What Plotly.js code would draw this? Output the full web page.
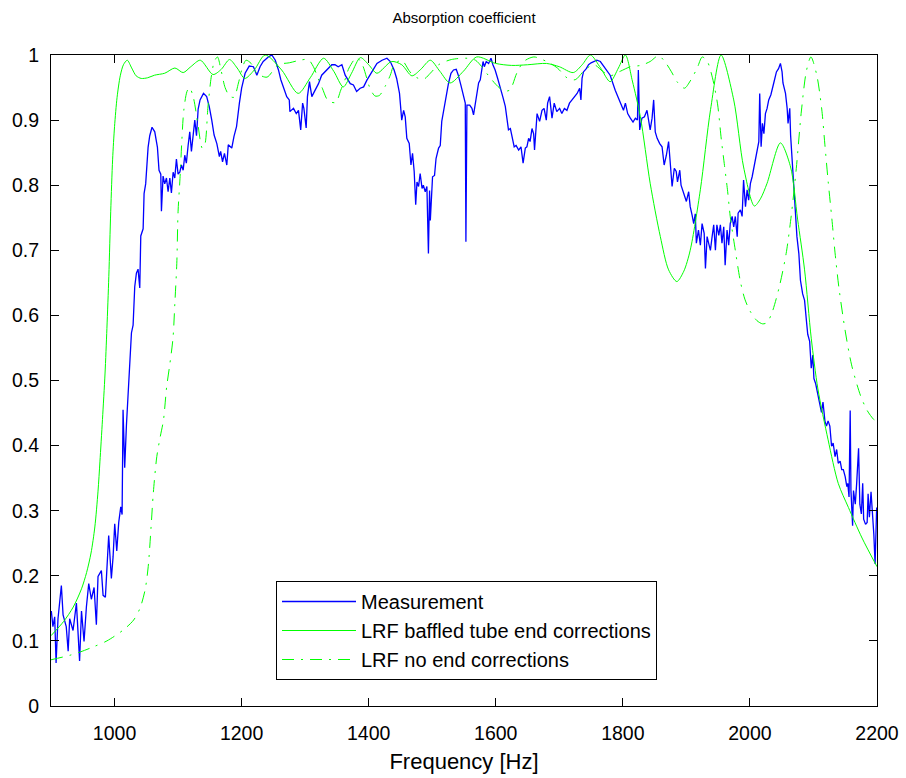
<!DOCTYPE html>
<html><head><meta charset="utf-8">
<script src="https://cdn.plot.ly/plotly-3.0.1.min.js"></script>
<style>html,body{margin:0;padding:0;background:#fff}#chart{width:906px;height:778px}</style>
</head><body><div id="chart"></div>
<script>
// Measurement (blue)
const measFreq = [900.5,903,905.8,908,911,916.3,919,924,927,929.4,934.7,940,945,948,952,955.7,959.4,963.5,967.8,971.4,974,979.3,982,985.6,990.8,995,997.7,1000.3,1003.5,1006.6,1009.8,1011.9,1013.4,1016,1018.7,1021.3,1024,1026.6,1029.2,1031.8,1034.4,1037,1039.7,1041.3,1045,1046.5,1049,1051.7,1052.8,1055.4,1059,1063.3,1067.5,1070,1072.8,1073.8,1076.4,1079,1081.7,1084.3,1087,1089.5,1092.2,1094.8,1097.4,1100,1102.7,1105.3,1108,1110.5,1113,1115.8,1118.4,1121,1123.7,1126.3,1129,1131.6,
1134.6,1140,1145,1149,1153,1156.7,1161,1165,1167,1170,1173,1176.7,1179,1184.5,1188,1192,1196.5,1200,1205.5,1212,1218.6,1224,1229,1234,1242,1247.6,1253,1258,1261.7,1266,1271,1275,1276,1281.6,1286,1289.5,1293,1296,1298,1301.6,1303.6,1306.8,1310.5,1315.7,1321,1326,1331.5,1336.7,1342,1347,1352,1357.8,1363,1371,1376,1381,1386.6,1392,1397,1405,1413,1421,1428.7,1434,1440,1444,1448.5,
1452,1455,1457.5,1460,1463.8,1466.5,1469,1471.6,1474,1476,1478.5,1481,1484,1486,1489,1491.6,1494,1495.8,1497,1500.5,1503.6,1506,1510,1512.6,1515,1519,1523,1525.7,1529.5,1533.5,1537.8,1541,1545,1549,1552,1553,1554.6,1559,1562.5,1565,1567.7,1570,1573,1575.6,1580,1582,1585,1588.7,1592.5,1595.5,1599,1603,1607,1611,1615,1617.6,1620,1623,1625.5,1629,1632,1636,1639.7,1643,1646.5,1649,1651.7,1654,1657,1659.6,1661,1665,1669,1672.8,1676,1679.5,1681.6,1684.7,1688.5,1692,1696,1700.5,1704,1708,1712,1716,1720,1723.6,1728,1732,1734,1735.8,1738,1742.5,1746,1750,1754,1759,1764.6,
1772.4,1780,1788,1793.4,1797,1801,1804,1807.6,1811.8,1816,1819.7,1823,1824.4,1826.5,1830,1834,1838,1840.6,1843,1846,1848.5,1851,1854,1858,1861.7,1865,1868.5,1872,1874.8,1877.5,1881,1884,1886,1889.6,1891.6,1895.8,1900,1903.6,1906,1909,1911.5,1914,1915.7,1919,1922,1924.7,1928,1930,1932.6,1935,1937.8,1940.5,1943,1945.7,1948,1951,1953.5,1956,1958.8,1961,1964,1966.6,1969,1972,1974.5,1977,1980,1981.4,1985,1987.7,1990,1993,1995.6,1998,2000.8,2003.5,2006,2008.7,2011,2014,2015.4,2017.6,2019.7,2022,2024.4,2027,2029.6,2033,2037.5,2041.7,2045,2048,2050.6,2052,2056,2058.6,2060,2062.7,2064,2066.5,2069,2071.7,2074,2077,2079.5,
2083,2086,2089,2091,2094,2096.5,2099,2100.7,2103.5,2106,2110,2112.6,2115,2118,2120.5,2123,2125.8,2128.5,2131,2134,2136.5,2139,2142,2144.5,2147,2150,2152.5,2154,2156,2157.8,2159,2161.6,2163,2165.8,2168,2171,2173,2175.4,2177.5,2179,2182,2184.5,2186,2188,2190.6,2193,2195,2197,2199.5];
const measVal = [0.146,0.122,0.137,0.066,0.134,0.185,0.14,0.122,0.084,0.134,0.116,0.158,0.069,0.146,0.099,0.152,0.188,0.164,0.182,0.125,0.199,0.208,0.17,0.167,0.262,0.196,0.229,0.28,0.238,0.282,0.306,0.294,0.455,0.366,0.431,0.484,0.544,0.573,0.585,0.644,0.665,0.671,0.642,0.722,0.733,0.787,0.802,0.837,0.858,0.876,0.889,0.882,0.858,0.823,0.817,0.76,0.814,0.802,0.811,0.79,0.811,0.788,0.82,0.811,0.84,0.817,0.82,0.831,0.823,0.846,0.834,0.861,0.882,0.852,0.882,0.9,0.876,0.917,
0.931,0.941,0.936,0.921,0.9,0.877,0.864,0.844,0.852,0.836,0.849,0.831,0.862,0.857,0.875,0.89,0.926,0.949,0.972,0.983,0.982,0.969,0.982,0.99,0.997,1.0,0.992,0.977,0.962,0.951,0.936,0.931,0.913,0.918,0.91,0.915,0.885,0.926,0.918,0.888,0.936,0.959,0.936,0.946,0.956,0.969,0.974,0.979,0.985,0.985,0.982,0.985,0.969,0.956,0.954,0.944,0.949,0.951,0.961,0.974,0.987,0.992,0.995,0.99,0.977,0.964,0.941,
0.9,0.915,0.905,0.872,0.864,0.831,0.849,0.821,0.77,0.805,0.798,0.818,0.795,0.8,0.79,0.798,0.695,0.792,0.746,0.813,0.815,0.841,0.857,0.861,0.898,0.921,0.944,0.957,0.972,0.977,0.978,0.969,0.954,0.939,0.926,0.713,0.923,0.923,0.918,0.908,0.926,0.944,0.957,0.962,0.99,0.982,0.99,0.987,0.995,0.985,0.977,0.964,0.951,0.936,0.921,0.9,0.885,0.887,0.875,0.859,0.861,0.854,0.859,0.834,0.857,0.859,0.872,0.867,0.887,0.879,0.854,0.91,0.898,0.915,0.918,0.9,0.926,0.936,0.903,0.926,0.913,0.918,0.91,0.918,0.915,0.926,0.931,0.936,0.941,0.949,0.931,0.964,0.974,0.979,0.985,0.988,0.99,0.992,0.99,
0.979,0.969,0.946,0.933,0.923,0.915,0.926,0.91,0.903,0.897,0.903,0.9,0.977,0.885,0.903,0.905,0.915,0.897,0.885,0.903,0.931,0.882,0.872,0.864,0.859,0.831,0.846,0.867,0.831,0.798,0.826,0.821,0.805,0.823,0.8,0.788,0.775,0.79,0.767,0.754,0.741,0.756,0.711,0.731,0.708,0.741,0.726,0.672,0.721,0.711,0.7,0.721,0.739,0.7,0.739,0.723,0.739,0.711,0.736,0.677,0.731,0.708,0.741,0.752,0.736,0.752,0.721,0.757,0.762,0.752,0.808,0.767,0.793,0.777,0.803,0.813,0.826,0.839,0.854,0.867,0.941,0.859,0.895,0.879,0.91,0.918,0.931,0.939,0.957,0.974,0.979,0.987,0.974,0.957,0.941,0.918,0.895,0.918,0.877,0.839,0.793,0.767,0.721,0.695,0.654,
0.633,0.623,0.591,0.571,0.56,0.519,0.539,0.503,0.495,0.482,0.467,0.451,0.467,0.438,0.43,0.438,0.43,0.399,0.404,0.383,0.394,0.373,0.376,0.363,0.363,0.352,0.337,0.342,0.321,0.454,0.331,0.277,0.331,0.31,0.342,0.396,0.31,0.295,0.342,0.287,0.279,0.282,0.326,0.29,0.329,0.3,0.264,0.218,0.305];

// LRF baffled tube end corrections (solid green)
const baffFreq = [900,920,935,948,956,963,969,974,977,981,985,988,991,994,997,1000,1004,1009,1014,1020,1027,1034,1042,1052,1063,1079,1095,1108,1120,1135,1155,1168,1181,1193,1205,1220,1237,1263,1289,1308,1329,1345,1360,1373,1387,1400,1413,1436,1452,1468,1482,1497,1512,1528,1549,1570,1600,1625,1650,1680,1700,1722,1736,1749,1765,1780,1793,1804,1815,1827.6,1843,1859,1872,1885,1896,1906,1922,1938,1954.6,1974.5,1990,2007,2016.5,2027,2048,2064,2075,2086,2096.5,2107,2123,2139,2155,2176.5,2200];
const baffVal = [0.108,0.13,0.152,0.18,0.205,0.235,0.275,0.33,0.375,0.44,0.51,0.58,0.66,0.76,0.84,0.89,0.935,0.968,0.985,0.992,0.98,0.968,0.964,0.965,0.969,0.972,0.98,0.973,0.982,0.992,0.97,0.978,0.993,0.98,0.964,0.977,1.0,0.977,0.941,0.965,0.995,0.975,0.951,0.972,0.996,0.985,0.972,0.99,0.985,0.968,0.978,0.992,0.975,0.957,0.975,0.997,0.987,0.984,0.985,0.987,0.982,0.973,0.985,1.0,0.98,0.959,0.98,1.0,0.96,0.905,0.803,0.721,0.67,0.652,0.668,0.7,0.793,0.916,1.0,0.931,0.828,0.768,0.779,0.803,0.865,0.828,0.748,0.67,0.565,0.487,0.409,0.342,0.305,0.258,0.214];

// LRF no end corrections (dash-dot green)
const noEndFreq = [900,930,946,967,988,1014,1030,1040,1048,1053,1057.5,1061,1066.5,1072,1077,1082,1087,1092,1095,1098,1100,1103,1106,1109,1114,1118,1124,1131,1138,1142,1147,1152,1157,1162,1168,1174,1181,1188,1195,1201,1207,1215,1224,1240,1257,1275,1292,1305,1313,1320,1327,1336,1348,1356,1362,1369,1381,1390,1402,1410,1417,1426,1434,1440,1452,1465,1476,1487,1497,1510,1530,1555,1568,1578,1588,1600,1612,1622,1633,1644,1660,1680,1697,1712,1725,1741,1755,1768,1780,1796,1812,1828,1843,1856,1866,1876,1886,1897,1906,1917,1925,1933,1941,1949,1955,1960,1965,1969,1977,1985,1992,2000,2011,2020,2027,2035,2046,2057,2065,2073,2081,2089,2096,2105,2113,2118,2123,2129,2134,2140,2150,2160,2174,2184.5,2195,2200];
const noEndVal = [0.071,0.078,0.083,0.091,0.1,0.117,0.132,0.15,0.178,0.214,0.275,0.327,0.383,0.414,0.439,0.49,0.525,0.565,0.62,0.68,0.76,0.81,0.87,0.915,0.944,0.95,0.935,0.895,0.857,0.862,0.92,0.965,0.99,0.997,0.975,0.95,0.937,0.935,0.957,0.98,0.992,0.987,0.972,0.966,0.985,0.988,0.992,0.993,0.982,0.965,0.949,0.93,0.927,0.946,0.96,0.98,0.996,0.985,0.949,0.937,0.938,0.952,0.969,0.985,0.992,0.974,0.965,0.963,0.972,0.985,0.993,0.995,0.992,0.982,0.969,0.955,0.945,0.946,0.972,0.99,0.997,0.99,0.98,0.965,0.962,0.978,0.985,0.975,0.968,0.975,0.982,0.984,0.99,0.999,0.99,0.975,0.958,0.949,0.96,0.98,0.997,0.99,0.965,0.925,0.87,0.83,0.79,0.752,0.7,0.652,0.625,0.607,0.592,0.587,0.589,0.605,0.643,0.695,0.753,0.826,0.914,0.976,0.997,0.97,0.917,0.862,0.807,0.748,0.696,0.643,0.576,0.524,0.477,0.454,0.44,0.437];

const seriesNames = ['Measurement','LRF baffled tube end corrections','LRF no end corrections'];
const xTicks = [1000,1200,1400,1600,1800,2000,2200];
const xTickText = ['1000','1200','1400','1600','1800','2000','2200'];
const yTicks = [0,0.1,0.2,0.3,0.4,0.5,0.6,0.7,0.8,0.9,1];
const yTickText = ['0','0.1','0.2','0.3','0.4','0.5','0.6','0.7','0.8','0.9','1'];

const traces = [
  {x: measFreq, y: measVal, name: seriesNames[0], type:'scatter', mode:'lines', line:{color:'rgb(0,0,255)', width:1.3}},
  {x: baffFreq, y: baffVal, name: seriesNames[1], type:'scatter', mode:'lines', line:{color:'rgb(0,255,0)', width:1, shape:'spline', smoothing:0.8}},
  {x: noEndFreq, y: noEndVal, name: seriesNames[2], type:'scatter', mode:'lines', line:{color:'rgb(0,255,0)', width:1, shape:'spline', smoothing:0.8, dash:'12px,7px,2px,7px'}}
];

const axisCommon = {
  ticks:'inside', ticklen:8, tickcolor:'black', tickwidth:1,
  showline:true, linecolor:'black', linewidth:1, mirror:'ticks',
  showgrid:false, zeroline:false, tickfont:{size:19.5, color:'black'}
};

const layout = {
  width:906, height:778,
  margin:{l:51, r:29, t:55, b:72},
  paper_bgcolor:'white', plot_bgcolor:'white',
  font:{family:'Liberation Sans, Arial, sans-serif', color:'black', size:19},
  title:{text:'Absorption coefficient', font:{size:15, color:'black'}, x:0.5, xref:'paper', xanchor:'center', y:1-18/778, yref:'container', yanchor:'middle'},
  xaxis: Object.assign({}, axisCommon, {range:[900,2200], tickmode:'array', tickvals:xTicks, ticktext:xTickText, ticklabelstandoff:10,
    title:{text:'Frequency [Hz]', font:{size:22, color:'black'}, standoff:10}}),
  yaxis: Object.assign({}, axisCommon, {range:[0,1], tickmode:'array', tickvals:yTicks, ticktext:yTickText, ticklabelstandoff:7}),
  showlegend:true,
  legend:{x:(276-51)/826, y:(706-630.5)/651, xanchor:'left', yanchor:'middle', bgcolor:'white', bordercolor:'black', borderwidth:1, font:{size:20, color:'black'}, itemwidth:74, tracegroupgap:0}
};

Plotly.newPlot('chart', traces, layout, {staticPlot:true, displayModeBar:false});
</script></body></html>
